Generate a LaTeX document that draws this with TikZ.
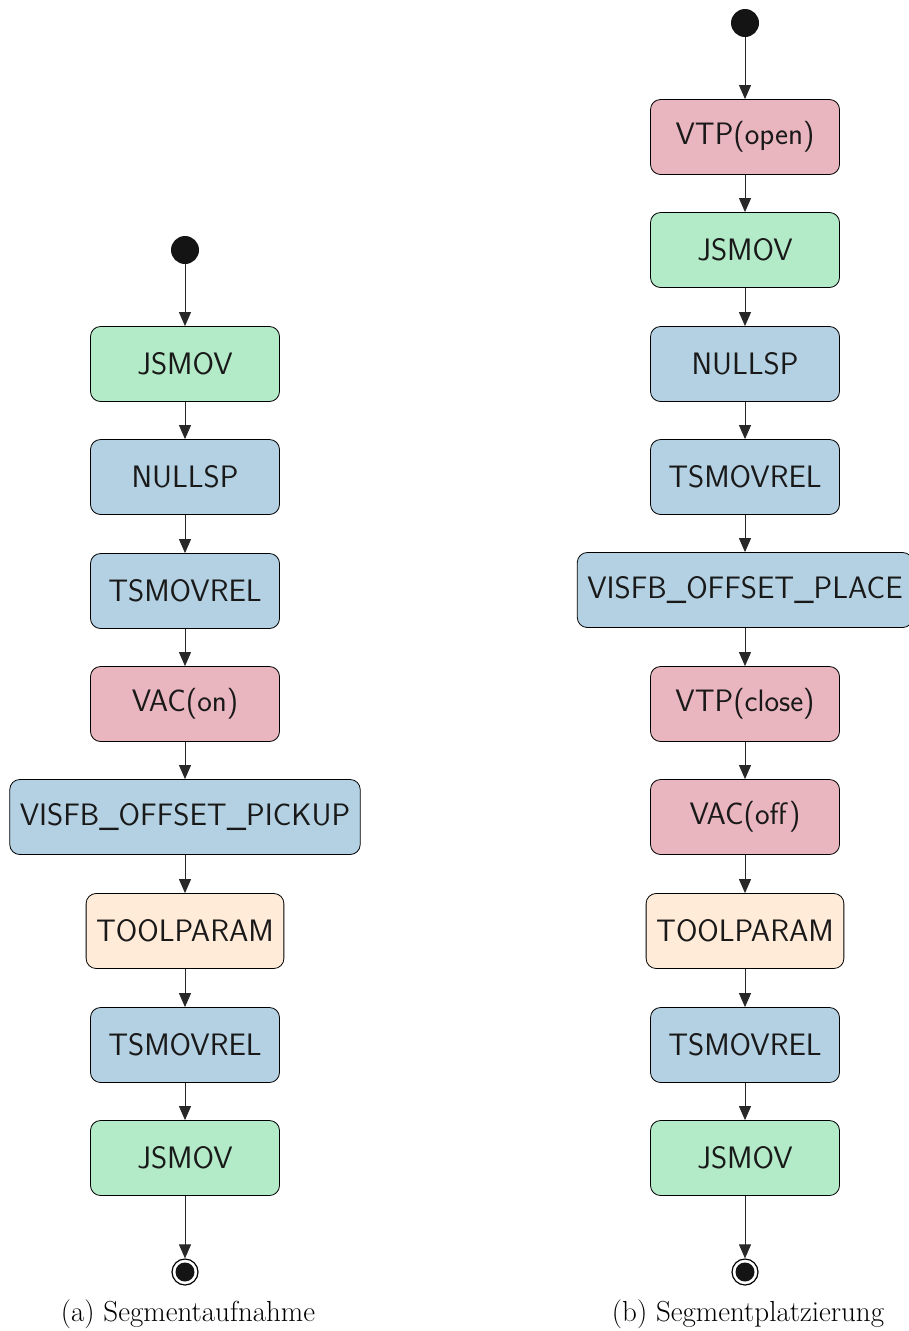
\documentclass[tikz,border=0pt]{standalone}
\usepackage{fontspec}
\usetikzlibrary{arrows.meta}
\definecolor{cgreen}{RGB}{179,234,199}
\definecolor{cblue}{RGB}{179,209,226}
\definecolor{cpink}{RGB}{233,181,191}
\definecolor{cpeach}{RGB}{255,235,216}
\definecolor{cline}{RGB}{40,40,40}
\tikzset{
  act/.style={draw=black, line width=0.8pt, rounded corners=10pt, minimum width=189pt, minimum height=75pt, inner xsep=10pt, font=\sffamily\fontsize{31}{36}\selectfont, text=black!90},
  gr/.style={act, fill=cgreen},
  bl/.style={act, fill=cblue},
  pk/.style={act, fill=cpink},
  pc/.style={act, fill=cpeach},
  startnode/.style={circle, fill=black!92, minimum size=28pt, inner sep=0pt},
  endouter/.style={circle, draw=black, line width=1.2pt, fill=white, minimum size=26pt, inner sep=0pt},
  endinner/.style={circle, fill=black!92, minimum size=19pt, inner sep=0pt},
  flow/.style={draw=cline, line width=0.9pt, -{Triangle[length=14pt, width=12pt]}},
  captext/.style={font=\fontsize{29}{34}\selectfont}
}
\begin{document}
\begin{tikzpicture}[x=1pt, y=-1pt]
\useasboundingbox (0,0) rectangle (909,1331);
% left column
\node[startnode] (ls) at (185,250) {};
\node[gr] (l1) at (185,364) {JSMOV};
\node[bl] (l2) at (185,477) {NULLSP};
\node[bl] (l3) at (185,591) {TSMOVREL};
\node[pk] (l4) at (185,704) {VAC(on)};
\node[bl, minimum width=350pt] (l5) at (185,817) {VISFB\_OFFSET\_PICKUP};
\node[pc] (l6) at (185,931) {TOOLPARAM};
\node[bl] (l7) at (185,1045) {TSMOVREL};
\node[gr] (l8) at (185,1158) {JSMOV};
\node[endouter] (le) at (185,1272) {};
\node[endinner] (lei) at (185,1272) {};
\draw[flow] (ls) -- (l1);
\draw[flow] (l1) -- (l2);
\draw[flow] (l2) -- (l3);
\draw[flow] (l3) -- (l4);
\draw[flow] (l4) -- (l5);
\draw[flow] (l5) -- (l6);
\draw[flow] (l6) -- (l7);
\draw[flow] (l7) -- (l8);
\draw[flow] (l8) -- (le);
% right column
\node[startnode] (rs) at (745,23) {};
\node[pk] (r1) at (745,137) {VTP(open)};
\node[gr] (r2) at (745,250) {JSMOV};
\node[bl] (r3) at (745,364) {NULLSP};
\node[bl] (r4) at (745,477) {TSMOVREL};
\node[bl, minimum width=334pt] (r5) at (745,590) {VISFB\_OFFSET\_PLACE};
\node[pk] (r6) at (745,704) {VTP(close)};
\node[pk] (r7) at (745,817) {VAC(off)};
\node[pc] (r8) at (745,931) {TOOLPARAM};
\node[bl] (r9) at (745,1045) {TSMOVREL};
\node[gr] (r10) at (745,1158) {JSMOV};
\node[endouter] (re) at (745,1272) {};
\node[endinner] (rei) at (745,1272) {};
\draw[flow] (rs) -- (r1);
\draw[flow] (r1) -- (r2);
\draw[flow] (r2) -- (r3);
\draw[flow] (r3) -- (r4);
\draw[flow] (r4) -- (r5);
\draw[flow] (r5) -- (r6);
\draw[flow] (r6) -- (r7);
\draw[flow] (r7) -- (r8);
\draw[flow] (r8) -- (r9);
\draw[flow] (r9) -- (r10);
\draw[flow] (r10) -- (re);
% captions
\node[captext] (capa) at (188,1314) {(a) Segmentaufnahme};
\node[captext] (capb) at (748,1314) {(b) Segmentplatzierung};
\end{tikzpicture}
\end{document}
